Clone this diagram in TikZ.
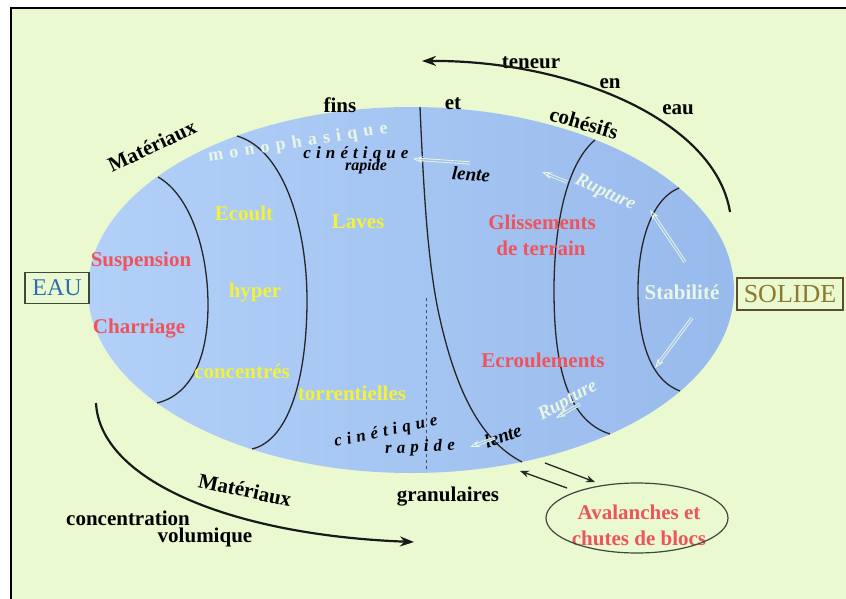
\documentclass[tikz,border=0pt]{standalone}
\usepackage{fontspec}
\setmainfont{Liberation Serif}
\newfontfamily\spaced{Liberation Serif}[LetterSpace=30]
\newfontfamily\wide{Liberation Serif}[LetterSpace=35]
\usepackage{tikz}
\usetikzlibrary{arrows.meta,shapes.geometric}
\definecolor{fond}{RGB}{234,249,208}
\definecolor{bleuA}{RGB}{178,208,248}
\definecolor{bleuB}{RGB}{152,186,236}
\definecolor{rouge}{RGB}{238,84,92}
\definecolor{jaune}{RGB}{242,242,60}
\definecolor{blanc}{RGB}{232,246,228}
\definecolor{bleuE}{RGB}{46,109,180}
\definecolor{olive}{RGB}{140,122,48}
\definecolor{cadreE}{RGB}{58,74,64}
\definecolor{cadreS}{RGB}{90,80,48}
\definecolor{gris}{RGB}{70,80,100}
\newcommand{\taille}[1]{\fontsize{#1pt}{#1pt}\selectfont}

\begin{document}
\begin{tikzpicture}[x=1pt,y=-1pt,
	lab/.style={inner sep=0pt,font={\taille{21}\bfseries}},
	rouge/.style={lab,text=rouge},
	jaune/.style={lab,text=jaune},
	noir/.style={lab,text=black},
	blanc/.style={lab,text=blanc},
	courbe/.style={line width=1.3pt,black!85},
	fleche/.style={draw=blanc,line width=0.9pt,double=bleuB!90!white,double distance=1.4pt,-{Stealth[length=10pt,width=7pt,open]}},
	petite/.style={line width=1.3pt,black!85,-{Stealth[length=9pt,width=7pt]}},
	grand/.style={line width=2.2pt,black!90,-{Stealth[length=14pt,width=10pt]}},
	boite/.style={draw,line width=1.2pt,inner sep=0pt,font=\taille{24}}]
\useasboundingbox (0,0) rectangle (846,599);
\fill[white] (0,0) rectangle (846,599);
\fill[fond] (11,8) rectangle (846,599);
\draw[line width=2pt] (11,599) -- (11,8) -- (846,8);
% domaine
\shade[left color=bleuA,right color=bleuB] (411,290) ellipse [x radius=323pt,y radius=183pt];
\draw[courbe] (158,177) .. controls (190,195) and (208,250) .. (208,305) .. controls (208,360) and (190,395) .. (157,403);
\draw[courbe] (237,136) .. controls (285,150) and (307,230) .. (307,300) .. controls (307,375) and (290,440) .. (252,449);
\draw[courbe] (420,107) .. controls (424,200) and (428,260) .. (438,310) .. controls (455,390) and (480,440) .. (522,462);
\draw[dashed,line width=0.8pt,gris] (426,298) -- (426,470);
\draw[courbe] (595,140) .. controls (565,165) and (554,230) .. (554,290) .. controls (554,360) and (565,420) .. (610,434);
\draw[courbe] (679,188) .. controls (650,200) and (638,245) .. (638,290) .. controls (638,340) and (650,380) .. (680,391);
% boites
\node[boite,draw=cadreE,text=bleuE,minimum width=64pt,minimum height=31pt] (eau) at (57,288) {EAU};
\node[boite,draw=cadreS,text=olive,minimum width=106pt,minimum height=32pt,font=\taille{26}] (solide) at (790,294) {SOLIDE};
% textes
\foreach \n/\x/\y/\t in {susp/141/261/Suspension, charr/139/329/Charriage, glis/542/222/Glissements, terr/541/248/de terrain, ecr/543/360/Ecroulements, aval1/639/512/Avalanches et, aval2/639/538/chutes de blocs}
	\node[rouge] (\n) at (\x,\y) {\t};
\foreach \n/\x/\y/\t in {ecoult/244/213/Ecoult, hyper/255/292/hyper, conc/242/371/concentrés, laves/358/222/Laves, torr/352/393/torrentielles}
	\node[jaune] (\n) at (\x,\y) {\t};
\foreach \n/\x/\y/\t in {fins/340/105/fins, et/453/104/et, teneur/531/63/teneur, en/610/84/en, eaut/678/110/eau, gran/448/497/granulaires, concv/128/518/concentration, volu/205/537/volumique}
	\node[noir] (\n) at (\x,\y) {\t};
\node[noir,rotate=25] (mat1) at (152,146) {Matériaux};
\node[noir,rotate=-16] (coh) at (584,123) {cohésifs};
\node[noir,rotate=-12] (mat2) at (245,490) {Matériaux};
\node[blanc,font=\taille{18}\wide\bfseries,rotate=9] (mono) at (298,143) {monophasique};
\node[noir,font=\taille{17}\spaced\bfseries\itshape] (cin1) at (356,154) {cinétique};
\node[noir,font=\taille{16}\bfseries\itshape] (rap1) at (366,167) {rapide};
\node[noir,font=\taille{19}\bfseries\itshape,rotate=-4] (len1) at (471,174) {lente};
\node[blanc,font=\taille{19}\bfseries\itshape,rotate=-25] (rup1) at (605,193) {Rupture};
\node[blanc] (stab) at (682,292) {Stabilité};
\node[blanc,font=\taille{19}\bfseries\itshape,rotate=29] (rup2) at (568,401) {Rupture};
\node[noir,font=\taille{19}\bfseries\itshape,rotate=20] (len2) at (503,436) {lente};
\node[noir,font=\taille{17}\spaced\bfseries\itshape,rotate=12] (cin2) at (386,432) {cinétique};
\node[noir,font=\taille{17}\spaced\bfseries\itshape,rotate=3] (rap2) at (420,448) {rapide};
% fleches blanches
\foreach \i/\a/\b/\c/\d in {1/470/163/413/159, 2/567/182/542/172, 3/685/262/650/210, 4/692/318/655/368, 5/495/438/470/447, 6/580/404/556/418}{
	\coordinate (w\i a) at (\a,\b);
	\coordinate (w\i b) at (\c,\d);
	\draw[fleche] (w\i a) -- (w\i b);
}
% grandes fleches
\coordinate (t1) at (730,212);
\coordinate (t2) at (422,61);
\draw[grand] (t1) .. controls (715,120) and (570,60) .. (t2);
\coordinate (b1) at (96,403);
\coordinate (b2) at (414,542);
\draw[grand] (b1) .. controls (100,480) and (230,535) .. (b2);
% avalanches
\node[draw=cadreE,line width=1.2pt,ellipse,minimum width=182pt,minimum height=70pt,inner sep=0pt] (aval) at (637,518) {};
\coordinate (p1) at (567,488);
\coordinate (p2) at (520,471);
\coordinate (p3) at (545,463);
\coordinate (p4) at (595,482);
\draw[petite] (p1) -- (p2);
\draw[petite] (p3) -- (p4);
\end{tikzpicture}
\end{document}
